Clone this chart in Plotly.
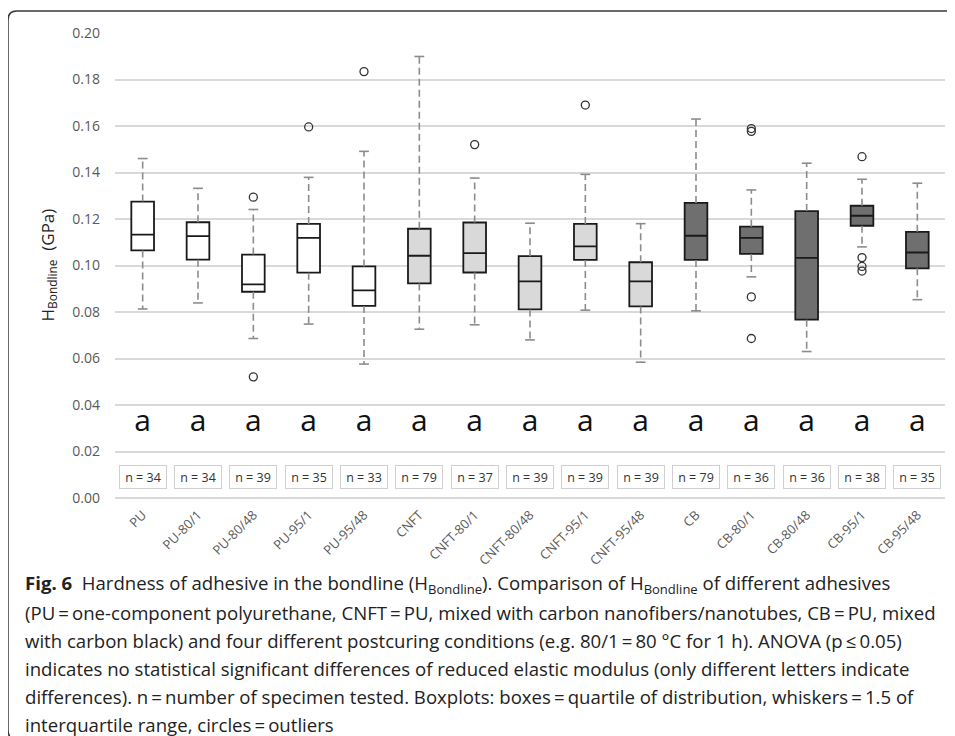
import plotly.graph_objects as go

# ---------------- data ----------------
categories = ["PU", "PU-80/1", "PU-80/48", "PU-95/1", "PU-95/48",
              "CNFT", "CNFT-80/1", "CNFT-80/48", "CNFT-95/1", "CNFT-95/48",
              "CB", "CB-80/1", "CB-80/48", "CB-95/1", "CB-95/48"]
groups = ["PU"] * 5 + ["CNFT"] * 5 + ["CB"] * 5
whisker_low = [0.0813, 0.0839, 0.0686, 0.0748, 0.0576,
               0.0726, 0.0745, 0.0680, 0.0808, 0.0584,
               0.0805, 0.0951, 0.0630, 0.1080, 0.0853]
q1 = [0.1065, 0.1025, 0.0887, 0.0969, 0.0826,
      0.0923, 0.0970, 0.0811, 0.1024, 0.0824,
      0.1024, 0.1050, 0.0767, 0.1171, 0.0988]
median = [0.1133, 0.1126, 0.0919, 0.1119, 0.0893,
          0.1042, 0.1053, 0.0932, 0.1082, 0.0932,
          0.1128, 0.1119, 0.1033, 0.1214, 0.1056]
q3 = [0.1275, 0.1186, 0.1047, 0.1179, 0.0996,
      0.1158, 0.1185, 0.1040, 0.1179, 0.1014,
      0.1269, 0.1167, 0.1234, 0.1257, 0.1145]
whisker_high = [0.1460, 0.1332, 0.1241, 0.1379, 0.1491,
                0.1899, 0.1376, 0.1182, 0.1392, 0.1180,
                0.1630, 0.1325, 0.1440, 0.1371, 0.1354]
outliers = [[], [], [0.1294, 0.0521], [0.1596], [0.1834],
            [], [0.1520], [], [0.1690], [],
            [], [0.1589, 0.1577, 0.0865, 0.0686], [], [0.1468, 0.1034, 0.0996, 0.0976], []]
n_values = [34, 34, 39, 35, 33, 79, 37, 39, 39, 39, 79, 36, 36, 38, 35]
letters = ["a"] * 15
letter_y = 0.0322
n_label_y = 0.009
y_ticks = [0.00, 0.02, 0.04, 0.06, 0.08, 0.10, 0.12, 0.14, 0.16, 0.18, 0.20]

caption_lines = [
    "<b>Fig. 6</b>  Hardness of adhesive in the bondline (H<sub>Bondline</sub>). Comparison of H<sub>Bondline</sub> of different adhesives",
    "(PU\u2009=\u2009one-component polyurethane, CNFT\u2009=\u2009PU, mixed with carbon nanofibers/nanotubes, CB\u2009=\u2009PU, mixed",
    "with carbon black) and four different postcuring conditions (e.g. 80/1\u2009=\u200980 °C for 1 h). ANOVA (p\u2009≤\u20090.05)",
    "indicates no statistical significant differences of reduced elastic modulus (only different letters indicate",
    "differences). n\u2009=\u2009number of specimen tested. Boxplots: boxes\u2009=\u2009quartile of distribution, whiskers\u2009=\u20091.5 of",
    "interquartile range, circles\u2009=\u2009outliers",
]

# ---------------- style ----------------
OFF = 8                      # page body margin
W, H = 955 - OFF, 736 - OFF
L, R, T, B = 115 - OFF, 10, 33 - OFF, 246 - OFF
PW, PH = W - L - R, H - T - B
fills = {"PU": "#ffffff", "CNFT": "#d9d9d9", "CB": "#6f6f6f"}
FONT = "Open Sans"


def px(x):
    return (x - OFF - L) / PW


def py(y):
    return (H - B - (y - OFF)) / PH


fig = go.Figure()
xs = list(range(len(categories)))

# whiskers (dashed)
wx, wy = [], []
for i in xs:
    wx += [i, i, None, i, i, None]
    wy += [q3[i], whisker_high[i], None, q1[i], whisker_low[i], None]
fig.add_trace(go.Scatter(x=wx, y=wy, mode="lines",
                         line=dict(color="#8c8c8c", width=1.6, dash="7px,4px"),
                         showlegend=False, hoverinfo="skip"))
# whisker caps
fig.add_trace(go.Scatter(x=xs + xs, y=whisker_high + whisker_low, mode="markers",
                         marker=dict(symbol="line-ew", size=7, color="#8c8c8c",
                                     line=dict(color="#8c8c8c", width=1.6)),
                         showlegend=False, hoverinfo="skip"))

# boxes per group
for g in ["PU", "CNFT", "CB"]:
    idx = [i for i in xs if groups[i] == g]
    fig.add_trace(go.Box(
        x=idx,
        q1=[q1[i] for i in idx], median=[median[i] for i in idx],
        q3=[q3[i] for i in idx],
        lowerfence=[q1[i] for i in idx], upperfence=[q3[i] for i in idx],
        width=0.41, whiskerwidth=0, boxpoints=False,
        fillcolor=fills[g], line=dict(color="#1a1a1a", width=1.8),
        showlegend=False, hoverinfo="skip"))

# outliers
ox, oy = [], []
for i in xs:
    for v in outliers[i]:
        ox.append(i)
        oy.append(v)
fig.add_trace(go.Scatter(x=ox, y=oy, mode="markers",
                         marker=dict(symbol="circle-open", size=8, color="#333333",
                                     line=dict(color="#333333", width=1.3)),
                         showlegend=False, hoverinfo="skip"))

# letters
fig.add_trace(go.Scatter(x=xs, y=[letter_y] * len(xs), mode="text", text=letters,
                         textfont=dict(family=FONT, size=30, color="#111111"),
                         showlegend=False, hoverinfo="skip"))

annotations = []
for i in xs:
    annotations.append(dict(x=i, y=n_label_y, xref="x", yref="y",
                            text=f"n = {n_values[i]}", showarrow=False,
                            font=dict(family=FONT, size=12.5, color="#333333"),
                            bordercolor="#d0d0d0", borderwidth=1, borderpad=2,
                            width=42, height=18, bgcolor="white"))

# y-axis title
annotations.append(dict(x=px(48), y=0.5, xref="paper", yref="paper",
                        xanchor="center", yanchor="middle",
                        text="H<sub>Bondline</sub>  (GPa)", textangle=-90,
                        showarrow=False,
                        font=dict(family=FONT, size=17, color="#222222")))

# caption
cap_y = [584, 612, 640, 668, 696, 724]
for t, yy in zip(caption_lines, cap_y):
    annotations.append(dict(x=px(23), y=py(yy), xref="paper", yref="paper",
                            xanchor="left", yanchor="middle", align="left",
                            text=t, showarrow=False,
                            font=dict(family=FONT, size=18.6, color="#222222")))

# border frame
def P(x, y):
    return f"{px(x)},{py(y)}"

border = (f"M {P(18, 740)} Q {P(8, 740)} {P(8, 730)} L {P(8, 20)} "
          f"Q {P(8, 11)} {P(17, 11)} L {P(960, 11)}")
shapes = [dict(type="path", path=border, xref="paper", yref="paper",
               line=dict(color="#3a3a3a", width=1.5), layer="above")]

fig.update_layout(
    width=W, height=H,
    margin=dict(l=L, r=R, t=T, b=B),
    paper_bgcolor="white", plot_bgcolor="white",
    font=dict(family=FONT),
    boxmode="overlay",
    annotations=annotations, shapes=shapes,
    xaxis=dict(range=[-0.5, len(categories) - 0.5], tickmode="array",
               tickvals=xs, ticktext=categories, tickangle=-45,
               tickfont=dict(family=FONT, size=13, color="#595959"),
               showgrid=False, zeroline=False, showline=False, ticks="",
               ticklabelstandoff=6),
    yaxis=dict(range=[0, 0.2], tickmode="array", tickvals=y_ticks,
               ticktext=[f"{v:.2f}" for v in y_ticks],
               tickfont=dict(family=FONT, size=14, color="#595959"),
               showgrid=True, gridcolor="#d9d9d9", gridwidth=1.5,
               zeroline=True, zerolinecolor="#d9d9d9", zerolinewidth=1.5,
               showline=False, ticks="", ticklabelstandoff=14),
)

fig.write_html("out.html")
